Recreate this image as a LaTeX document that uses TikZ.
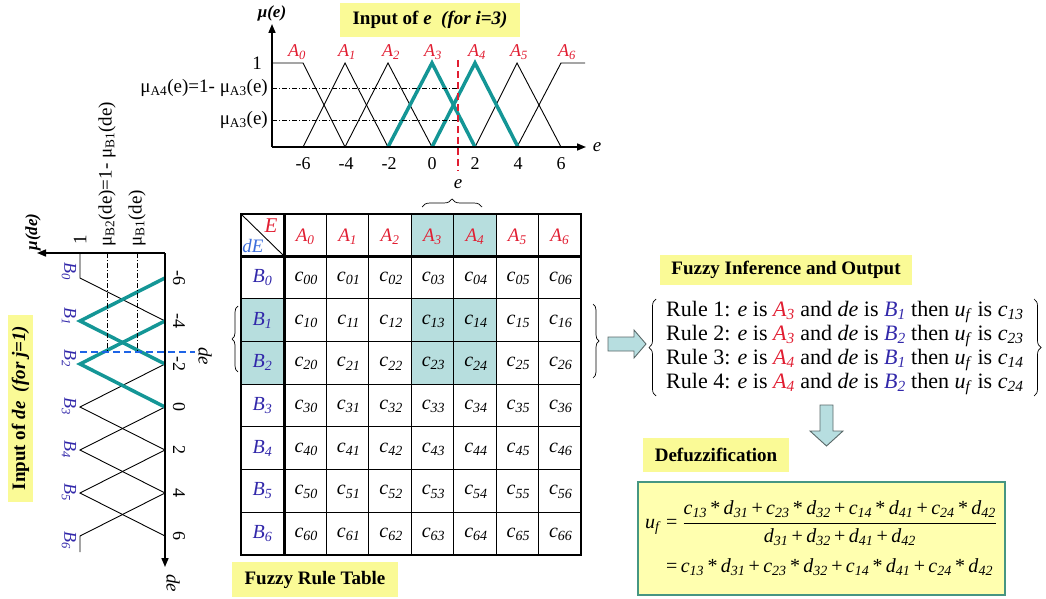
\documentclass[tikz,border=0pt]{standalone}
\usepackage{fontspec}
\setmainfont{Liberation Serif}
\usetikzlibrary{arrows.meta,decorations.pathreplacing}
\definecolor{ared}{RGB}{225,30,50}
\definecolor{bblue}{RGB}{50,40,170}
\definecolor{dblue}{RGB}{60,110,220}
\definecolor{tealx}{RGB}{20,150,150}
\definecolor{hl}{RGB}{183,222,222}
\definecolor{ylw}{RGB}{250,250,150}
\definecolor{fyl}{RGB}{255,255,175}
\definecolor{fbd}{RGB}{70,150,130}
\definecolor{arrfill}{RGB}{183,222,224}
\definecolor{arrdraw}{RGB}{90,105,105}
\definecolor{vblue}{RGB}{30,100,230}
\newcommand\cc[2]{\textit{#1}\textsubscript{\textit{#2}}}
\newcommand\mus[1]{μ\textsubscript{#1}}
\newcommand\fsz[1]{\fontsize{#1}{#1}\selectfont}
\tikzset{
  axisline/.style={line width=1.6pt,-{Triangle[length=9pt,width=7pt]}},
  mf/.style={line width=0.9pt},
  mfhl/.style={line width=3.5pt,tealx,line join=miter},
  dd/.style={line width=0.9pt,dash pattern=on 5pt off 2pt on 1pt off 2pt},
  lbox/.style={fill=ylw,inner sep=0pt,font=\bfseries\fsz{19}},
  tick/.style={font=\fsz{18},inner sep=0pt},
  alab/.style={font=\itshape\fsz{18},text=ared,inner sep=0pt},
  blab/.style={font=\itshape\fsz{18},text=bblue,inner sep=0pt},
  mulab/.style={font=\fsz{19},inner sep=0pt},
  cell/.style={font=\fsz{20},inner sep=0pt},
  brc/.style={decorate,line width=0.7pt},
  rule/.style={font=\fsz{22},anchor=west,inner sep=0pt},
  blockarrow/.style={fill=arrfill,draw=arrdraw,line width=0.9pt},
}
\begin{document}
\begin{tikzpicture}[x=1pt,y=-1pt]
\useasboundingbox (0,0) rectangle (1046,599);

% ================= top chart (input e)
\node[lbox,minimum width=180pt,minimum height=34pt] (ine) at (430,20) {Input of \textit{e}\ \ \textit{(for i=3)}};
\draw[mf] (272,63) -- (303,63) -- (345,147);
\draw[mf] (303,147) -- (345,63) -- (388,147);
\draw[mf] (345,147) -- (388,63) -- (432,147);
\draw[mf] (475,147) -- (517,63) -- (561,147);
\draw[mf] (517,147) -- (561,63) -- (585,63);
\draw[mfhl] (388,147) -- (432,63) -- (475,147);
\draw[mfhl] (432,147) -- (475,63) -- (518,147);
\draw[dd] (272,88) -- (458,88);
\draw[dd] (272,120) -- (458,120);
\draw[axisline] (272,147) -- (586,147);
\draw[axisline] (272,147) -- (272,24);
\draw[ared,line width=2pt,dash pattern=on 7pt off 4pt] (458,60) -- (458,171);
\node[font=\bfseries\itshape\fsz{17},inner sep=0pt] (mue) at (272,13) {μ(e)};
\node[font=\itshape\fsz{19},inner sep=0pt] (ex) at (597,147) {e};
\node[font=\itshape\fsz{19},inner sep=0pt] (ev) at (458,184) {e};
\node[mulab,anchor=east] (one) at (262,63) {1};
\node[mulab,anchor=east] (mu4) at (268,88) {\mus{A4}(e)=1- \mus{A3}(e)};
\node[mulab,anchor=east] (mu3) at (268,120) {\mus{A3}(e)};
\foreach \i/\x in {0/297,1/347,2/391,3/433,4/477,5/519,6/567}
  \node[alab] (ta\i) at (\x,52) {\cc{A}{\i}};
\foreach \v in {-6,-4,-2,0,2,4,6}
  \node[tick] (tx\v) at ({432+21.5*\v},164) {\v};

% ================= left chart (input de)
\node[lbox,rotate=90,minimum width=187pt,minimum height=25pt] (inde) at (20.5,408) {Input of \textit{de}\ \ \textit{(for j=1)}};
\draw[mf] (80,253) -- (80,278) -- (165,321);
\draw[mf] (165,321) -- (80,364);
\draw[mf] (165,364) -- (80,407) -- (165,450);
\draw[mf] (165,407) -- (80,450) -- (165,493);
\draw[mf] (165,450) -- (80,493) -- (165,536);
\draw[mf] (165,493) -- (80,536) -- (80,552);
\draw[mfhl] (165,278) -- (80,321) -- (165,364);
\draw[mfhl] (165,321) -- (80,364) -- (165,407);
\draw[dd] (107,253) -- (107,352);
\draw[dd] (137,253) -- (137,352);
\draw[axisline] (165,253) -- (37,253);
\draw[axisline] (165,253) -- (165,567);
\draw[vblue,line width=2pt,dash pattern=on 7pt off 4pt] (80,352) -- (195,352);
\node[font=\bfseries\itshape\fsz{17},inner sep=0pt,rotate=90] (mude) at (33,232) {μ(de)};
\node[font=\itshape\fsz{19},inner sep=0pt,rotate=-90] (dex) at (173,583) {de};
\node[font=\itshape\fsz{19},inner sep=0pt,rotate=-90] (dev) at (205,356) {de};
\node[mulab,rotate=90] (onel) at (80,240) {1};
\node[mulab,rotate=90,anchor=west] (mub2) at (107,247) {\mus{B2}(de)=1- \mus{B1}(de)};
\node[mulab,rotate=90,anchor=west] (mub1) at (137,247) {\mus{B1}(de)};
\foreach \i/\y in {0/271,1/316,2/358,3/406,4/449,5/492,6/540}
  \node[blab,rotate=-90] (tb\i) at (69,\y) {\cc{B}{\i}};
\foreach \v in {-6,-4,-2,0,2,4,6}
  \node[tick,rotate=-90] (ty\v) at (179,{407+21.5*\v}) {\v};

% ================= fuzzy rule table
\fill[hl] (411.3,214) rectangle (496.1,256);
\fill[hl] (241,298.7) rectangle (284,384.1);
\fill[hl] (411.3,298.7) rectangle (496.1,384.1);
\foreach \c in {1,...,7}
  \draw[line width=0.8pt] ({284+42.43*\c},214) -- ({284+42.43*\c},555);
\foreach \r in {1,...,7}
  \draw[line width=0.8pt] (241,{256+42.71*\r}) -- (581,{256+42.71*\r});
\draw[line width=1.2pt] (241,214) rectangle (581,555);
\draw[line width=3pt] (284,214) -- (284,555);
\draw[line width=3pt] (241,256) -- (581,256);
\draw[line width=0.9pt] (241,214) -- (284,256);
\node[font=\itshape\fsz{21},text=ared,inner sep=0pt] (bigE) at (271,226) {E};
\node[font=\itshape\fsz{19},text=dblue,inner sep=0pt] (dE) at (253,246) {dE};
\foreach \c in {0,...,6}
  \node[alab,font=\itshape\fsz{19}] (ha\c) at ({284+42.43*(\c+0.5)},237) {\cc{A}{\c}};
\foreach \r in {0,...,6}
  \node[blab,font=\itshape\fsz{20}] (hb\r) at (262.5,{256+42.71*(\r+0.5)}) {\cc{B}{\r}};
\foreach \r in {0,...,6}
  \foreach \c in {0,...,6}
    \node[cell] (c\r\c) at ({284+42.43*(\c+0.5)+1},{256+42.71*(\r+0.5)+1}) {\cc{c}{\r\c}};
\node[lbox,minimum width=166pt,minimum height=35pt] (frt) at (315,579.5) {Fuzzy Rule Table};

% braces
\draw[brc,decoration={brace,amplitude=8pt}] (422,207) -- (482,207);
\draw[brc,decoration={brace,amplitude=6pt}] (238,372) -- (238,306);
\draw[brc,decoration={brace,amplitude=6pt}] (593,304) -- (593,378);

% ================= inference
\draw[blockarrow] (608,337) -- (634,337) -- (634,330) -- (646,344) -- (634,358) -- (634,351) -- (608,351) -- cycle;
\node[lbox,minimum width=252pt,minimum height=30pt] (fio) at (786,270) {Fuzzy Inference and Output};
\draw[brc,decoration={brace,amplitude=7pt}] (656,396) -- (656,299);
\draw[brc,decoration={brace,amplitude=7pt}] (1034,299) -- (1034,396);
\node[rule] (r1) at (666,312) {Rule 1: \textit{e} is \textcolor{ared}{\cc{A}{3}} and \textit{de} is \textcolor{bblue}{\cc{B}{1}} then \cc{u}{f} is \cc{c}{13}};
\node[rule] (r2) at (666,336) {Rule 2: \textit{e} is \textcolor{ared}{\cc{A}{3}} and \textit{de} is \textcolor{bblue}{\cc{B}{2}} then \cc{u}{f} is \cc{c}{23}};
\node[rule] (r3) at (666,360) {Rule 3: \textit{e} is \textcolor{ared}{\cc{A}{4}} and \textit{de} is \textcolor{bblue}{\cc{B}{1}} then \cc{u}{f} is \cc{c}{14}};
\node[rule] (r4) at (666,384) {Rule 4: \textit{e} is \textcolor{ared}{\cc{A}{4}} and \textit{de} is \textcolor{bblue}{\cc{B}{2}} then \cc{u}{f} is \cc{c}{24}};

% ================= defuzzification
\draw[blockarrow] (820,405) -- (833,405) -- (833,431) -- (843,431) -- (826.5,446) -- (810,431) -- (820,431) -- cycle;
\node[lbox,minimum width=146pt,minimum height=34pt] (dfz) at (716,455) {Defuzzification};
\node[draw=fbd,fill=fyl,line width=1.6pt,minimum width=367pt,minimum height=113pt,inner sep=0pt] (fbox) at (821.5,538.5) {};
\node[anchor=west,inner sep=0pt,font=\fsz{20}] (f1) at (645,523) {$\displaystyle\mbox{\cc{u}{f} = }\frac{\mbox{\cc{c}{13}\,*\,\cc{d}{31}\,+\,\cc{c}{23}\,*\,\cc{d}{32}\,+\,\cc{c}{14}\,*\,\cc{d}{41}\,+\,\cc{c}{24}\,*\,\cc{d}{42}}}{\mbox{\cc{d}{31}\,+\,\cc{d}{32}\,+\,\cc{d}{41}\,+\,\cc{d}{42}}}$};
\node[anchor=west,inner sep=0pt,font=\fsz{20}] (f2) at (666,567) {=\,\cc{c}{13}\,*\,\cc{d}{31}\,+\,\cc{c}{23}\,*\,\cc{d}{32}\,+\,\cc{c}{14}\,*\,\cc{d}{41}\,+\,\cc{c}{24}\,*\,\cc{d}{42}};
\end{tikzpicture}
\end{document}
